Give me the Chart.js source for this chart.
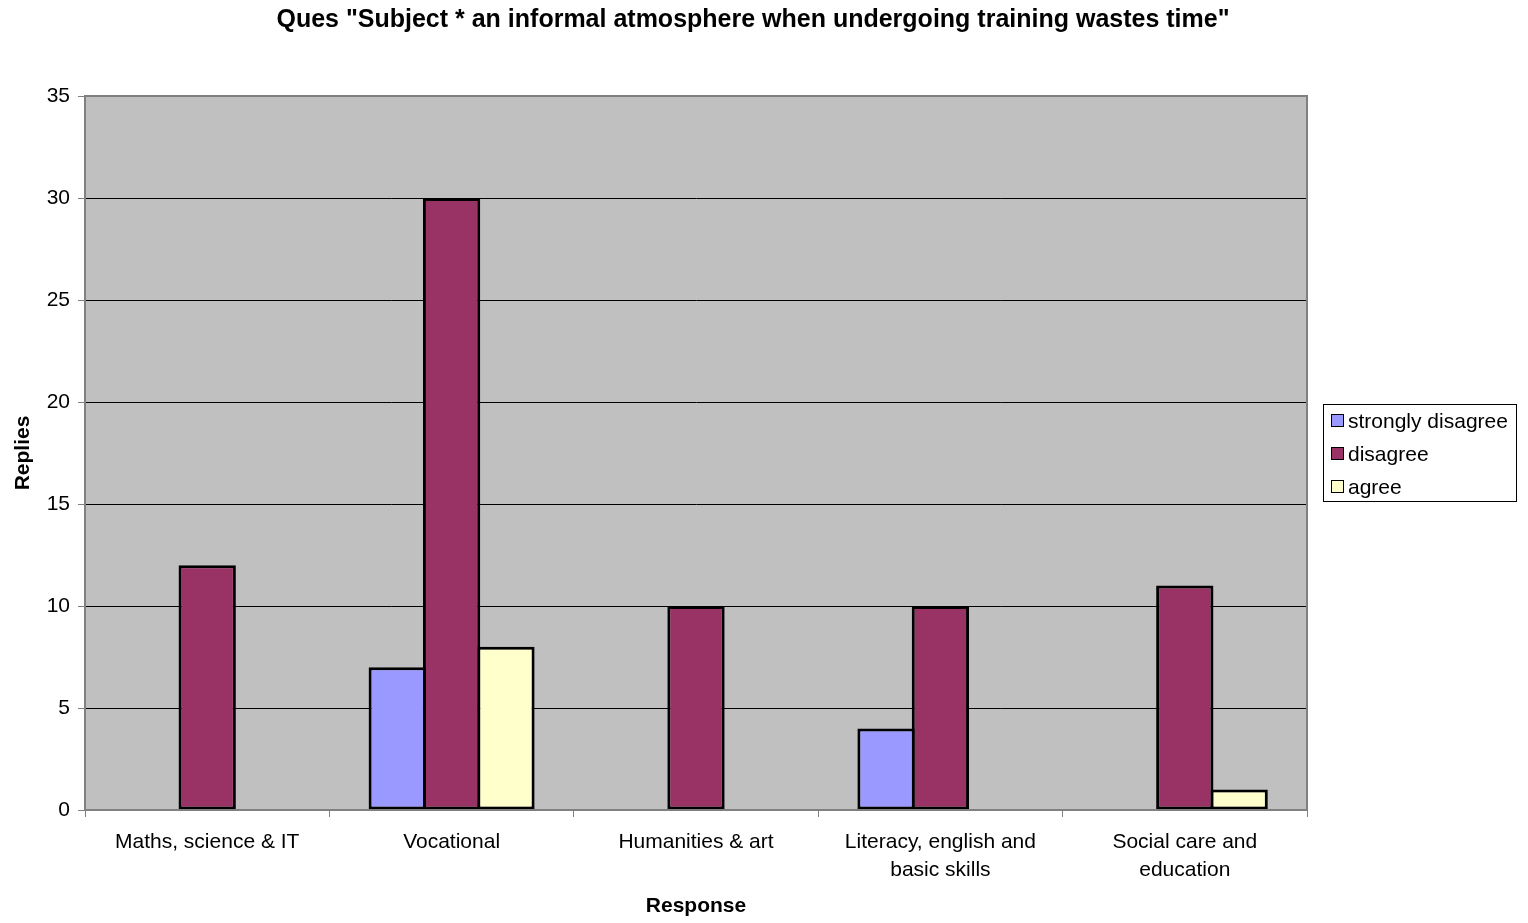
<!DOCTYPE html>
<html>
<head>
<meta charset="utf-8">
<script src="https://cdn.jsdelivr.net/npm/chart.js@4/dist/chart.umd.min.js"></script>
<style>
  html, body { margin: 0; padding: 0; background: #fff; }
  #wrap { width: 1528px; height: 923px; position: relative; }
</style>
</head>
<body>
<div id="wrap"><canvas id="chart" width="1528" height="923"></canvas></div>
<script>
const subjects = [
  "Maths, science & IT",
  "Vocational",
  "Humanities & art",
  ["Literacy, english and", "basic skills"],
  ["Social care and", "education"]
];
const stronglyDisagree = [null, 7, null, 4, null];
const disagree = [12, 30, 10, 10, 11];
const agree = [null, 8, null, null, 1];

const FONT = "Arial, 'Liberation Sans', sans-serif";

// grey plot background, border, title, axis titles and the boxed legend
const frame = {
  id: "frame",
  beforeDraw(chart) {
    const { ctx, chartArea: a } = chart;
    ctx.save();
    ctx.fillStyle = "#c0c0c0";
    ctx.fillRect(a.left, a.top, a.right - a.left, a.bottom - a.top);
    ctx.restore();
  },
  afterDraw(chart) {
    const { ctx, chartArea: a } = chart;
    ctx.save();
    ctx.strokeStyle = "#808080";
    ctx.lineWidth = 2;
    ctx.strokeRect(a.left, a.top, a.right - a.left, a.bottom - a.top);

    ctx.fillStyle = "#000";
    ctx.textAlign = "center";
    ctx.textBaseline = "middle";
    ctx.font = "bold 25px " + FONT;
    ctx.fillText('Ques "Subject * an informal atmosphere when undergoing training wastes time"', 753, 20);
    ctx.font = "bold 21px " + FONT;
    ctx.fillText("Response", (a.left + a.right) / 2, 906);
    ctx.translate(23, (a.top + a.bottom) / 2);
    ctx.rotate(-Math.PI / 2);
    ctx.fillText("Replies", 0, 0);
    ctx.restore();

    // legend
    ctx.save();
    ctx.fillStyle = "#fff";
    ctx.fillRect(1323.5, 404.5, 193, 97);
    ctx.strokeStyle = "#000";
    ctx.lineWidth = 1;
    ctx.strokeRect(1323.5, 404.5, 193, 97);
    ctx.font = "21px " + FONT;
    ctx.textAlign = "left";
    ctx.textBaseline = "middle";
    chart.data.datasets.forEach((ds, i) => {
      const y = 421 + i * 33;
      ctx.fillStyle = ds.backgroundColor;
      ctx.fillRect(1331.5, y - 6.5, 12, 12);
      ctx.strokeStyle = "#000";
      ctx.strokeRect(1331.5, y - 6.5, 12, 12);
      ctx.fillStyle = "#000";
      ctx.fillText(ds.label, 1348, y + 1);
    });
    ctx.restore();
  }
};

// bars overlap by their border width so neighbours share one edge line
const bar = (label, data, color) => ({
  label, data,
  backgroundColor: color,
  borderColor: "#000",
  borderWidth: 3,
  borderSkipped: false,
  barPercentage: 1.055,
  categoryPercentage: 0.667
});

new Chart(document.getElementById("chart"), {
  type: "bar",
  data: {
    labels: subjects,
    datasets: [
      bar("strongly disagree", stronglyDisagree, "#9999ff"),
      bar("disagree", disagree, "#993366"),
      bar("agree", agree, "#ffffcc")
    ]
  },
  options: {
    responsive: false,
    animation: false,
    devicePixelRatio: 1,
    layout: { padding: { left: 0, right: 221, top: 96, bottom: 0 } },
    plugins: { legend: { display: false }, title: { display: false }, tooltip: { enabled: false } },
    scales: {
      x: {
        afterFit(s) { s.height = 113; },
        grid: { drawOnChartArea: false, offset: true, tickLength: 7, tickColor: "#808080" },
        border: { color: "#808080", width: 2 },
        ticks: { color: "#000", font: { family: FONT, size: 21, lineHeight: 1.3 }, padding: 12, maxRotation: 0, autoSkip: false }
      },
      y: {
        min: 0, max: 35,
        afterFit(s) { s.width = 85; },
        grid: { color: "#000", lineWidth: 1, tickLength: 7, tickColor: "#808080" },
        border: { color: "#808080", width: 2 },
        ticks: { stepSize: 5, color: "#000", font: { family: FONT, size: 21 }, padding: 8 }
      }
    }
  },
  plugins: [frame]
});
</script>
</body>
</html>
